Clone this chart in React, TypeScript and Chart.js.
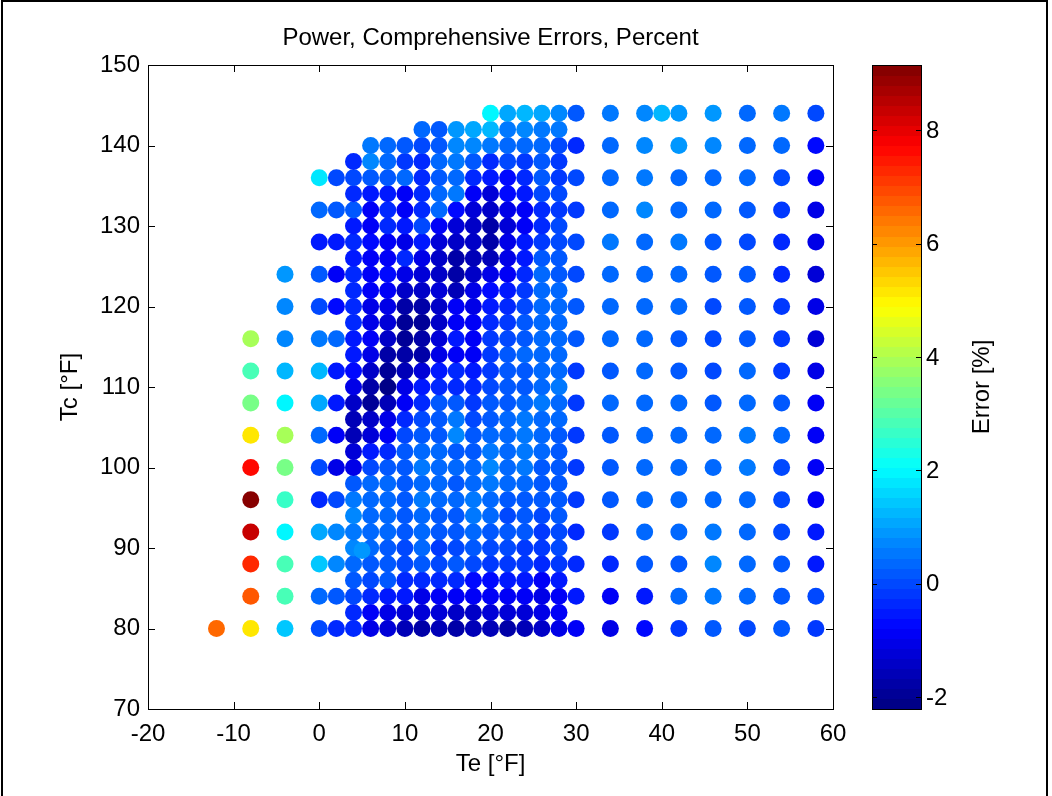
import React, { useEffect, useRef } from "react";
import { Chart, registerables } from "chart.js";

Chart.register(...registerables);

const FONT = "'Liberation Sans', Arial, Helvetica, sans-serif";
const FONT_SIZE = 24;

const TITLE = "Power, Comprehensive Errors, Percent";
const X_LABEL = "Te [°F]";
const Y_LABEL = "Tc [°F]";
const CB_LABEL = "Error [%]";

const X_TICKS = [-20, -10, 0, 10, 20, 30, 40, 50, 60];
const Y_TICKS = [70, 80, 90, 100, 110, 120, 130, 140, 150];
const CB_TICKS = [-2, 0, 2, 4, 6, 8];
const CB_MIN = -2.21;
const CB_MAX = 9.15;

// Tc grid rows (fine = every 2 °F, coarse = every 4 °F)
const TC_FINE = [80, 82, 84, 86, 88, 90, 92, 94, 96, 98, 100, 102, 104, 106, 108, 110, 112, 114, 116, 118, 120, 122, 124, 126, 128, 130, 132, 134, 136, 138, 140, 142, 144];
const TC_COARSE = [80, 84, 88, 92, 96, 100, 104, 108, 112, 116, 120, 124, 128, 132, 136, 140, 144];
const TC_TOP = [144];

// Errors [%] per Te column, listed from Tc = 80 upward
const ERR_M12 = [6.6];
const ERR_M8 = [5.2, 6.7, 7.2, 8.4, 9.1, 7.6, 5.1, 3.4, 2.8, 3.9];
const ERR_M4 = [1.4, 2.9, 2.8, 1.9, 2.7, 3.4, 3.9, 1.9, 1.2, 0.8, 0.7, 0.9];
const ERR_0 = [0.0, 0.4, 1.5, 1.1, -0.4, 0.0, 0.3, 1.1, 1.3, 0.6, 0.0, 0.2, -0.6, 0.4, 1.7];
const ERR_2 = [-0.3, 0.1, 0.7, 0.7, 0.0, -1.0, -0.9, -0.5, -0.5, 0.3, -0.7, -0.8, -0.5, 0.1, 0.0];
const ERR_4 = [-0.3, -0.3, 0.0, 0.2, 0.3, 0.8, 0.6, 0.8, 0.5, 0.2, -1.0, -1.3, -1.6, -1.6, -1.5, -1.1, -0.7, -0.5, -0.5, -0.3, -0.3, -0.3, -0.4, -0.5, -0.4, -0.5, 0.1, -0.4, 0.0, -0.3];
const ERR_6 = [-1.0, -0.8, -0.3, 0.0, 0.2, 0.4, 0.4, 0.3, 0.4, 0.3, 0.0, -0.5, -1.2, -1.5, -1.9, -1.8, -1.5, -1.1, -0.9, -1.1, -1.0, -0.8, -0.9, -0.9, -0.7, -0.9, -0.9, -0.5, 0.2, 0.7, 0.5];
const ERR_8 = [-1.3, -1.0, -0.5, 0.1, 0.1, 0.2, 0.3, 0.4, 0.4, 0.3, 0.2, -0.3, -0.8, -1.0, -1.6, -2.1, -2.0, -1.7, -1.5, -1.3, -1.0, -0.8, -0.7, -0.8, -0.8, -0.4, -0.3, -0.5, 0.1, 0.3, 0.4];
const ERR_10 = [-1.6, -1.3, -0.6, -0.4, 0.0, 0.0, 0.2, 0.2, 0.2, 0.2, 0.1, 0.1, 0.0, -0.3, -0.9, -1.1, -1.6, -1.8, -2.0, -1.9, -1.8, -1.5, -1.0, -0.4, -1.0, -0.6, -0.9, -0.9, 0.3, -0.1, 0.2];
const ERR_12 = [-1.7, -1.3, -1.0, -0.4, 0.1, 0.3, 0.3, 0.3, 0.5, 0.3, 0.5, 0.3, 0.1, 0.0, -0.3, -0.5, -1.3, -1.8, -1.7, -2.0, -1.8, -1.4, -1.2, -1.0, -0.5, 0.0, -0.3, -0.4, -0.3, -0.3, 0.0, 0.3];
const ERR_14 = [-1.6, -1.3, -0.8, -0.4, 0.0, -0.1, 0.1, 0.2, 0.3, 0.4, 0.3, 0.4, 0.2, 0.2, 0.1, -0.3, -0.5, -1.0, -1.3, -1.4, -1.4, -1.3, -1.4, -1.4, -1.2, -0.8, 0.4, 0.3, 0.1, 0.3, 0.1, 0.2];
const ERR_16 = [-1.8, -1.5, -0.8, -0.4, 0.1, 0.0, 0.1, 0.1, 0.3, 0.2, 0.4, 0.2, 0.7, 0.5, 0.1, -0.3, -0.3, -0.8, -0.6, -0.8, -0.8, -1.6, -1.8, -1.8, -1.4, -1.3, -0.7, 0.5, 0.4, 0.5, 0.7, 0.9];
const ERR_18 = [-1.6, -1.4, -0.8, -0.7, 0.0, 0.2, 0.3, 0.6, 0.5, 0.3, 0.3, 0.2, 0.1, 0.0, -0.1, -0.3, -0.5, -0.8, -0.8, -0.9, -1.0, -1.0, -1.5, -1.6, -1.5, -1.4, -1.3, -0.8, -0.4, 0.1, 0.8, 1.0];
const ERR_20 = [-1.6, -1.3, -0.8, -0.7, -0.1, 0.0, 0.2, 0.4, 0.4, 0.6, 0.7, 0.6, 0.3, 0.2, 0.1, 0.0, -0.1, -0.1, -0.2, -0.4, -0.6, -0.7, -1.1, -1.6, -1.8, -1.7, -1.5, -1.3, -0.6, -0.3, 0.6, 1.2, 1.9];
const ERR_22 = [-1.7, -1.3, -0.8, -0.6, -0.1, 0.0, 0.1, 0.0, 0.1, 0.4, 0.4, 0.3, 0.3, 0.3, 0.2, 0.1, 0.1, 0.1, 0.0, -0.2, -0.3, -0.5, -0.8, -1.1, -1.1, -1.3, -1.1, -0.7, -0.7, 0.0, 0.3, 0.6, 1.0];
const ERR_24 = [-1.6, -1.2, -0.9, -0.5, -0.1, -0.2, 0.1, 0.1, 0.2, 0.3, 0.6, 0.6, 0.6, 0.6, 0.3, 0.2, 0.1, 0.3, 0.2, 0.1, 0.0, -0.1, -0.3, -0.5, -0.6, -0.8, -0.8, -0.5, -0.4, -0.1, 0.3, 0.7, 1.2];
const ERR_26 = [-1.5, -1.0, -1.0, -0.8, -0.3, -0.2, -0.1, 0.0, 0.1, 0.1, 0.2, 0.3, 0.3, 0.4, 0.6, 0.4, 0.3, 0.4, 0.4, 0.3, 0.3, 0.3, 0.3, 0.1, -0.1, -0.3, -0.3, 0.0, 0.1, 0.2, 0.4, 0.5, 1.1];
const ERR_28 = [-1.1, -0.9, -0.8, -0.5, -0.2, 0.0, 0.0, 0.1, 0.2, 0.2, 0.2, 0.2, 0.2, 0.3, 0.4, 0.5, 0.3, 0.4, 0.3, 0.3, 0.3, 0.3, 0.2, 0.2, 0.0, 0.0, -0.1, 0.0, -0.2, -0.1, 0.0, 0.5, 0.8];
const ERR_30 = [-0.8, -0.5, -0.3, -0.3, -0.2, -0.1, -0.1, -0.1, -0.1, 0.1, 0.1, 0.0, 0.0, -0.1, 0.0, -0.3, 0.2];
const ERR_34 = [-1.1, -0.8, -0.4, -0.2, 0.1, 0.2, 0.2, 0.3, 0.2, 0.3, 0.3, 0.4, 0.5, 0.3, 0.3, 0.3, 0.5];
const ERR_38 = [-0.7, -0.5, 0.1, 0.3, 0.4, 0.4, 0.4, 0.4, 0.4, 0.3, 0.3, 0.4, 0.4, 0.7, 0.6, 0.7, 0.8];
const ERR_40 = [1.3];
const ERR_42 = [-0.1, 0.3, 0.2, 0.4, 0.4, 0.4, 0.4, 0.4, 0.2, 0.2, 0.3, 0.3, 0.5, 0.3, 0.4, 0.9, 0.9];
const ERR_46 = [0.1, 0.5, 0.7, 0.5, 0.4, 0.4, 0.3, 0.2, 0.0, 0.0, 0.0, 0.1, 0.2, 0.4, 0.3, 0.8, 0.9];
const ERR_50 = [0.0, 0.4, 0.3, 0.4, 0.4, 0.6, 0.5, 0.4, 0.4, 0.2, 0.2, 0.2, 0.0, 0.1, 0.4, 0.4, 0.3];
const ERR_54 = [0.2, 0.2, 0.2, 0.0, 0.0, 0.0, 0.3, 0.1, -0.1, -0.1, -0.1, -0.3, -0.3, -0.2, 0.0, 0.4, 0.5];
const ERR_58 = [-0.1, 0.0, -0.5, -0.6, -0.8, -0.9, -0.9, -0.9, -1.1, -1.2, -1.1, -1.2, -1.1, -1.0, -0.9, -0.7, 0.0];

// extra off-grid measurement
const EXTRA_TE = [5];
const EXTRA_TC = [89.7];
const EXTRA_ERR = [0.9];

const COLUMNS: [number, number[], number[]][] = [
  [-12, TC_COARSE, ERR_M12],
  [-8, TC_COARSE, ERR_M8],
  [-4, TC_COARSE, ERR_M4],
  [0, TC_COARSE, ERR_0],
  [2, TC_COARSE, ERR_2],
  [4, TC_FINE, ERR_4],
  [6, TC_FINE, ERR_6],
  [8, TC_FINE, ERR_8],
  [10, TC_FINE, ERR_10],
  [12, TC_FINE, ERR_12],
  [14, TC_FINE, ERR_14],
  [16, TC_FINE, ERR_16],
  [18, TC_FINE, ERR_18],
  [20, TC_FINE, ERR_20],
  [22, TC_FINE, ERR_22],
  [24, TC_FINE, ERR_24],
  [26, TC_FINE, ERR_26],
  [28, TC_FINE, ERR_28],
  [30, TC_COARSE, ERR_30],
  [34, TC_COARSE, ERR_34],
  [38, TC_COARSE, ERR_38],
  [40, TC_TOP, ERR_40],
  [42, TC_COARSE, ERR_42],
  [46, TC_COARSE, ERR_46],
  [50, TC_COARSE, ERR_50],
  [54, TC_COARSE, ERR_54],
  [58, TC_COARSE, ERR_58],
];

function clamp01(v: number) {
  return Math.max(0, Math.min(1, v));
}

function jetColor(v: number) {
  const t = clamp01((v - CB_MIN) / (CB_MAX - CB_MIN));
  const idx = Math.min(63, Math.floor(t * 64));
  const x = (idx + 0.5) / 64;
  const r = clamp01(1.5 - Math.abs(4 * x - 3));
  const g = clamp01(1.5 - Math.abs(4 * x - 2));
  const b = clamp01(1.5 - Math.abs(4 * x - 1));
  return `rgb(${Math.round(r * 255)},${Math.round(g * 255)},${Math.round(b * 255)})`;
}

type P = { x: number; y: number; e: number };

function buildPoints(): P[] {
  const pts: P[] = [];
  COLUMNS.forEach(([te, tcs, errs]) => {
    errs.forEach((e, i) => pts.push({ x: te, y: tcs[i], e }));
  });
  EXTRA_TE.forEach((te, i) => pts.push({ x: te, y: EXTRA_TC[i], e: EXTRA_ERR[i] }));
  return pts;
}

const decorPlugin = {
  id: "decor",
  beforeDraw(chart: any) {
    const ctx = chart.ctx;
    ctx.save();
    ctx.fillStyle = "#fff";
    ctx.fillRect(0, 0, chart.width, chart.height);
    ctx.restore();
  },
  afterDraw(chart: any) {
    const ctx = chart.ctx as CanvasRenderingContext2D;
    const { left, right, top, bottom } = chart.chartArea;
    const xs = chart.scales.x;
    const ys = chart.scales.y;
    ctx.save();
    ctx.strokeStyle = "#000";
    ctx.lineWidth = 1;
    // axes box
    ctx.strokeRect(Math.round(left) + 0.5, Math.round(top) + 0.5, Math.round(right - left), Math.round(bottom - top));
    // inward ticks
    const TL = 7;
    ctx.beginPath();
    X_TICKS.forEach((v) => {
      const px = Math.round(xs.getPixelForValue(v)) + 0.5;
      ctx.moveTo(px, bottom);
      ctx.lineTo(px, bottom - TL);
      ctx.moveTo(px, top);
      ctx.lineTo(px, top + TL);
    });
    Y_TICKS.forEach((v) => {
      const py = Math.round(ys.getPixelForValue(v)) + 0.5;
      ctx.moveTo(left, py);
      ctx.lineTo(left + TL, py);
      ctx.moveTo(right, py);
      ctx.lineTo(right - TL, py);
    });
    ctx.stroke();

    // title
    ctx.fillStyle = "#000";
    ctx.font = `${FONT_SIZE}px ${FONT}`;
    ctx.textAlign = "center";
    ctx.textBaseline = "middle";
    ctx.fillText(TITLE, (left + right) / 2, 38);

    // colorbar
    const cbL = Math.round(right) + 39;
    const cbR = Math.round(right) + 88;
    const cbT = top;
    const cbB = bottom;
    const vToY = (v: number) => cbB - ((v - CB_MIN) / (CB_MAX - CB_MIN)) * (cbB - cbT);
    const N = 64;
    for (let i = 0; i < N; i++) {
      const v0 = CB_MIN + ((CB_MAX - CB_MIN) * i) / N;
      const v1 = CB_MIN + ((CB_MAX - CB_MIN) * (i + 1)) / N;
      const y0 = vToY(v0);
      const y1 = vToY(v1);
      ctx.fillStyle = jetColor((v0 + v1) / 2);
      ctx.fillRect(cbL, Math.floor(y1), cbR - cbL, Math.ceil(y0) - Math.floor(y1));
    }
    ctx.strokeStyle = "#000";
    ctx.strokeRect(cbL + 0.5, Math.round(cbT) + 0.5, cbR - cbL, Math.round(cbB - cbT));
    ctx.beginPath();
    CB_TICKS.forEach((v) => {
      const py = Math.round(vToY(v)) + 0.5;
      ctx.moveTo(cbL, py);
      ctx.lineTo(cbL + 5, py);
      ctx.moveTo(cbR, py);
      ctx.lineTo(cbR - 5, py);
    });
    ctx.stroke();
    ctx.fillStyle = "#000";
    ctx.textAlign = "left";
    ctx.textBaseline = "middle";
    CB_TICKS.forEach((v) => {
      ctx.fillText(String(v), cbR + 5, vToY(v) + 1);
    });
    // colorbar label
    ctx.save();
    ctx.translate(cbR + 61, (cbT + cbB) / 2);
    ctx.rotate(-Math.PI / 2);
    ctx.textAlign = "center";
    ctx.textBaseline = "middle";
    ctx.fillText(CB_LABEL, 0, 0);
    ctx.restore();

    // figure frame
    ctx.strokeStyle = "#000";
    ctx.lineWidth = 2;
    ctx.beginPath();
    ctx.moveTo(2, chart.height + 5);
    ctx.lineTo(2, 1);
    ctx.lineTo(1047, 1);
    ctx.lineTo(1047, chart.height + 5);
    ctx.stroke();
    ctx.restore();
  },
};

export default function App() {
  const ref = useRef<HTMLCanvasElement>(null);
  useEffect(() => {
    const canvas = ref.current;
    if (!canvas) return;
    const pts = buildPoints();
    const chart = new Chart(canvas, {
      type: "scatter",
      data: {
        datasets: [
          {
            data: pts as any,
            pointRadius: 8.5,
            pointHoverRadius: 8.5,
            pointBorderWidth: 0,
            pointBackgroundColor: pts.map((p) => jetColor(p.e)),
            pointBorderColor: pts.map((p) => jetColor(p.e)),
          },
        ],
      },
      options: {
        responsive: false,
        devicePixelRatio: 1,
        animation: false,
        events: [],
        layout: { padding: { left: 0, top: 65, right: 219, bottom: 0 } },
        plugins: {
          legend: { display: false },
          tooltip: { enabled: false },
          title: { display: false },
        },
        scales: {
          x: {
            type: "linear",
            min: -20,
            max: 60,
            afterFit: (s: any) => {
              s.height = 87;
            },
            afterBuildTicks: (s: any) => {
              s.ticks = X_TICKS.map((v) => ({ value: v }));
            },
            grid: { display: false, drawTicks: false },
            border: { display: false },
            ticks: {
              padding: 11,
              color: "#000",
              font: { family: FONT, size: FONT_SIZE },
              maxRotation: 0,
            },
            title: {
              display: true,
              text: X_LABEL,
              color: "#000",
              font: { family: FONT, size: FONT_SIZE },
              padding: { top: 0, bottom: 17 },
            },
          },
          y: {
            type: "linear",
            min: 70,
            max: 150,
            afterFit: (s: any) => {
              s.width = 148;
            },
            afterBuildTicks: (s: any) => {
              s.ticks = Y_TICKS.map((v) => ({ value: v }));
            },
            grid: { display: false, drawTicks: false },
            border: { display: false },
            ticks: {
              padding: 8,
              color: "#000",
              font: { family: FONT, size: FONT_SIZE },
            },
            title: {
              display: true,
              text: Y_LABEL,
              color: "#000",
              font: { family: FONT, size: FONT_SIZE },
              padding: { top: 56, bottom: 0 },
            },
          },
        },
      },
      plugins: [decorPlugin],
    });
    return () => chart.destroy();
  }, []);
  return (
    <div style={{ position: "absolute", left: 0, top: 0, width: 1052, height: 796, background: "#fff" }}>
      <canvas ref={ref} width={1052} height={796} style={{ display: "block", width: 1052, height: 796 }} />
    </div>
  );
}
